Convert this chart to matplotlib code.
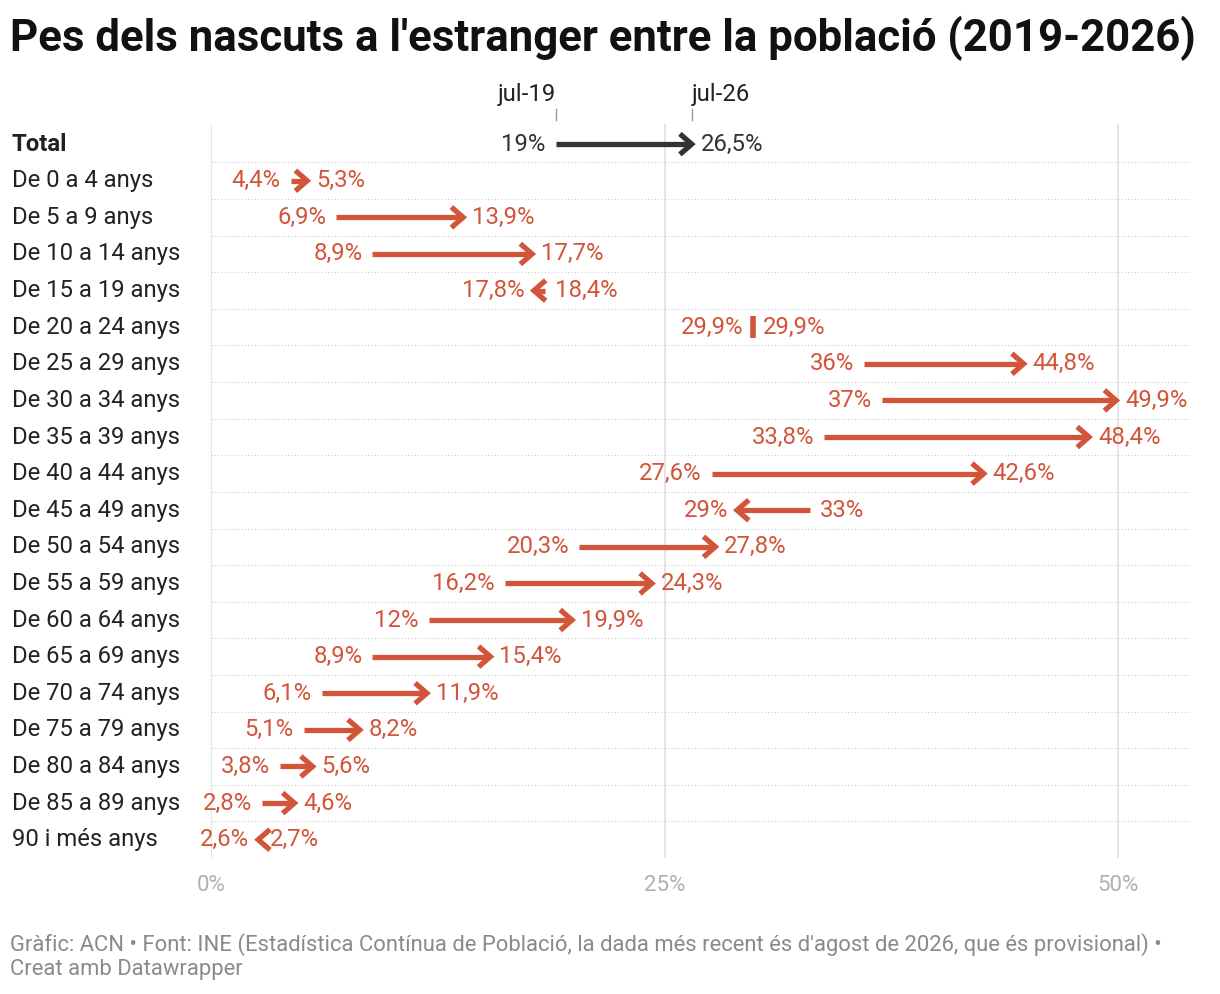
import matplotlib
matplotlib.use("Agg")
import matplotlib.pyplot as plt

cats = ["Total","De 0 a 4 anys","De 5 a 9 anys","De 10 a 14 anys","De 15 a 19 anys","De 20 a 24 anys",
        "De 25 a 29 anys","De 30 a 34 anys","De 35 a 39 anys","De 40 a 44 anys","De 45 a 49 anys",
        "De 50 a 54 anys","De 55 a 59 anys","De 60 a 64 anys","De 65 a 69 anys","De 70 a 74 anys",
        "De 75 a 79 anys","De 80 a 84 anys","De 85 a 89 anys","90 i més anys"]
v2019 = [19,4.4,6.9,8.9,18.4,29.9,36,37,33.8,27.6,33,20.3,16.2,12,8.9,6.1,5.1,3.8,2.8,2.7]
v2026 = [26.5,5.3,13.9,17.7,17.8,29.9,44.8,49.9,48.4,42.6,29,27.8,24.3,19.9,15.4,11.9,8.2,5.6,4.6,2.6]
xticks = [0,25,50]

FS = 17.2
plt.rcParams['font.family'] = ['Roboto','DejaVu Sans']
fig = plt.figure(figsize=(12.2,9.94), dpi=100)
ax = fig.add_axes([211/1220, 1-858/994, (1190-211)/1220, (858-124)/994])
ax.set_xlim(0, (1190-211)/18.14)
ax.set_ylim(len(cats)-0.5, -0.55)
for s in ax.spines.values(): s.set_visible(False)
ax.set_yticks([]); ax.set_xticks(xticks)
ax.set_xticklabels([f"{t}%" for t in xticks], color="#b0b0b0", fontsize=16)
ax.tick_params(axis='x', length=0, pad=12)
for t in xticks:
    ax.axvline(t, color="#e0e0e0", lw=1.2, zorder=0)
for i in range(len(cats)-1):
    ax.axhline(i+0.5, color="#cccccc", lw=0.8, ls=(0,(1,2)), zorder=0)

def fmt(v):
    return f"{v:g}".replace(".", ",") + "%"

for i,(c,a,b) in enumerate(zip(cats,v2019,v2026)):
    col = "#333333" if i==0 else "#d2553a"
    ax.annotate(c, xy=(0, i), xycoords=('figure fraction','data'), xytext=(12,0), textcoords='offset pixels',
                fontsize=FS, color="#222222", fontweight="bold" if i==0 else "normal", va="center", ha="left")
    if a == b:
        ax.plot([a,a],[i-0.3,i+0.3], color=col, lw=4, solid_capstyle='butt')
        ax.text(a-0.55, i, fmt(a), color=col, fontsize=FS, ha="right", va="center")
        ax.text(a+0.55, i, fmt(b), color=col, fontsize=FS, ha="left", va="center")
        continue
    d = 1 if b > a else -1
    ax.plot([a, b-d*0.15],[i,i], color=col, lw=3.8, solid_capstyle='butt')
    ax.plot([b-d*0.65, b, b-d*0.65],[i-0.28, i, i+0.28], color=col, lw=3.8,
            solid_joinstyle='miter', solid_capstyle='butt')
    ax.text(a-d*0.55, i, fmt(a), color=col, fontsize=FS, ha="right" if d>0 else "left", va="center")
    ax.text(b+d*0.5, i, fmt(b), color=col, fontsize=FS, ha="left" if d>0 else "right", va="center")

ax.plot([v2019[0]]*2, [-0.65,-0.95], color="#999999", lw=1, clip_on=False)
ax.plot([v2026[0]]*2, [-0.65,-0.95], color="#999999", lw=1, clip_on=False)
ax.text(v2019[0], -1.05, "jul-19", ha="right", va="bottom", fontsize=FS, color="#222222")
ax.text(v2026[0], -1.05, "jul-26", ha="left", va="bottom", fontsize=FS, color="#222222")

fig.text(10/1220, 1-38/994, "Pes dels nascuts a l'estranger entre la població (2019-2026)",
         fontsize=31.5, fontweight="bold", va="center", ha="left", color="#111111")
fig.text(10/1220, 1-945/994, "Gràfic: ACN • Font: INE (Estadística Contínua de Població, la dada més recent és d'agost de 2026, que és provisional) •",
         fontsize=15.8, color="#8a8a8a", va="center")
fig.text(10/1220, 1-970/994, "Creat amb Datawrapper", fontsize=15.8, color="#8a8a8a", va="center")
fig.savefig("out.png", dpi=100)
